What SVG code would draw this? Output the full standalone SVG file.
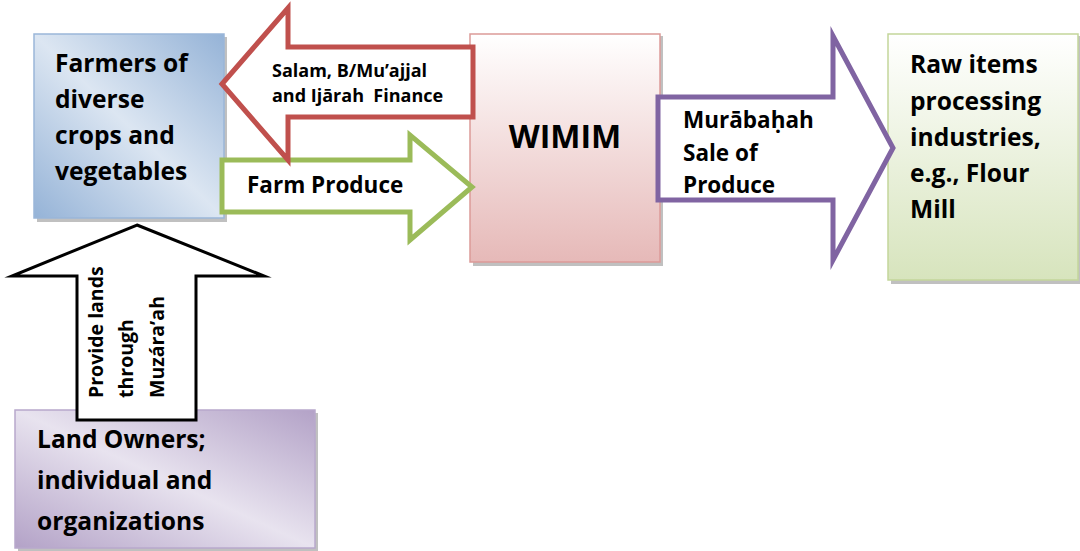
<svg xmlns="http://www.w3.org/2000/svg" width="1080" height="551" viewBox="0 0 1080 551">
<style>
text{font-family:"Open Sans","Liberation Sans",sans-serif;font-weight:bold;fill:#000;white-space:pre}
.big{font-size:24.6px}
.mid{font-size:22.5px}
.sm{font-size:18px}
.vt{font-size:19.5px}
.shadow{fill:#8c8c8c;opacity:0.55}
.arrow{fill:#fff;stroke-linejoin:miter;stroke-miterlimit:10}
</style>
<defs>
<linearGradient id="gBlue" x1="1" y1="0" x2="0" y2="1">
<stop offset="0" stop-color="#95b3d7"/>
<stop offset="0.5" stop-color="#dce6f2"/>
<stop offset="1" stop-color="#95b3d7"/>
</linearGradient>
<linearGradient id="gRed" x1="0" y1="0" x2="0" y2="1">
<stop offset="0" stop-color="#ffffff"/>
<stop offset="1" stop-color="#e6b9b8"/>
</linearGradient>
<linearGradient id="gGreen" x1="0" y1="0" x2="0" y2="1">
<stop offset="0" stop-color="#ffffff"/>
<stop offset="1" stop-color="#d7e4bd"/>
</linearGradient>
<linearGradient id="gPurple" x1="1" y1="0" x2="0" y2="1">
<stop offset="0" stop-color="#b3a2c7"/>
<stop offset="0.5" stop-color="#e8e3ef"/>
<stop offset="1" stop-color="#b3a2c7"/>
</linearGradient>
</defs>
<rect width="1080" height="551" fill="#fff"/>
<g id="farmers">
<rect class="shadow" x="37" y="37" width="190" height="185"/>
<rect x="34" y="34" width="190" height="184" fill="url(#gBlue)" stroke="#9ab6d9" stroke-width="1.5"/>
<text class="big" x="55" y="72">Farmers of</text>
<text class="big" x="55" y="108">diverse</text>
<text class="big" x="55" y="144">crops and</text>
<text class="big" x="55" y="180">vegetables</text>
</g>
<g id="wimim">
<rect class="shadow" x="473" y="36" width="190" height="230"/>
<rect x="470" y="34" width="190" height="228" fill="url(#gRed)" stroke="#dc9a98" stroke-width="1.5"/>
<text x="565" y="148" font-size="32" text-anchor="middle">WIMIM</text>
</g>
<g id="raw-items">
<rect class="shadow" x="891" y="36" width="190" height="248"/>
<rect x="888" y="34" width="190" height="246" fill="url(#gGreen)" stroke="#c3d69b" stroke-width="1.5"/>
<text class="big" x="910" y="73">Raw items</text>
<text class="big" x="910" y="110">processing</text>
<text class="big" x="910" y="146">industries,</text>
<text class="big" x="910" y="182">e.g., Flour</text>
<text class="big" x="910" y="218">Mill</text>
</g>
<g id="land-owners">
<rect class="shadow" x="18" y="413" width="300" height="138"/>
<rect x="15" y="410" width="300" height="138" fill="url(#gPurple)" stroke="#b8a8cc" stroke-width="1.5"/>
<text class="big" x="37" y="448">Land Owners;</text>
<text class="big" x="37" y="489">individual and</text>
<text class="big" x="37" y="530">organizations</text>
</g>
<g id="connectors">
<polygon class="arrow" points="222,160 410,160 410,135 472,187 410,240 410,212 222,212" stroke="#9bbb59" stroke-width="5"/>
<polygon class="arrow" points="222,84 288,8 288,47 473,47 473,117 288,117 288,160" stroke="#c0504d" stroke-width="5"/>
<polygon class="arrow" points="658,97 833,97 833,36 893,148 833,260 833,200 658,200" stroke="#8064a2" stroke-width="5"/>
<polygon class="arrow" points="137,225 264,276 196,276 196,420 77,420 77,276 12,276" stroke="#000" stroke-width="3"/>
<text class="sm" x="272" y="77">Salam, B/Mu’ajjal</text>
<text class="sm" x="272" y="102" xml:space="preserve">and Ijārah  Finance</text>
<text class="mid" x="247" y="193">Farm Produce</text>
<text class="mid" x="683" y="128">Murābaḥah</text>
<text class="mid" x="683" y="161">Sale of</text>
<text class="mid" x="683" y="193">Produce</text>
<text class="vt" transform="translate(103,398) rotate(-90)">Provide lands</text>
<text class="vt" transform="translate(133,398) rotate(-90)">through</text>
<text class="vt" transform="translate(164,398) rotate(-90)">Muzára’ah</text>
</g>
</svg>
